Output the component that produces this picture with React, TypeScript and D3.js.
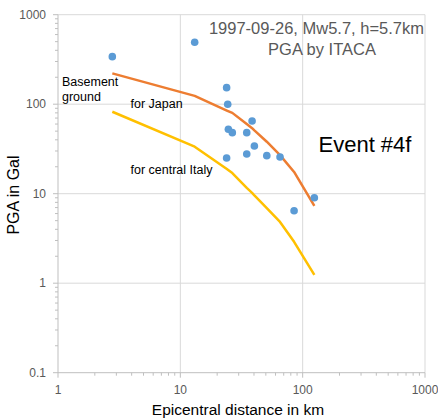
import React from "react";
import * as d3 from "d3";

const stationDist = [2.78, 13.1, 23.9, 24.4, 24.7, 26.6, 34.9, 38.6, 40.3, 23.9, 34.9, 50.9, 65.3, 124.6, 85.1];
const stationPGA = [340, 492, 153, 100, 52.5, 48.1, 48.1, 64.9, 34.1, 25.1, 27.8, 26.6, 25.7, 9.0, 6.46];

const curveDist = [2.78, 13.1, 24.0, 26.6, 34.9, 38.6, 40.3, 50.9, 65.3, 85.1, 124.6];
const japanPGA = [221, 124, 85, 80, 60, 54, 51, 38.1, 27.0, 17.5, 7.3];
const italyPGA = [82.4, 33.5, 18.9, 17.0, 11.6, 10.2, 9.55, 6.9, 4.83, 2.9, 1.24];

const xTicks = [1, 10, 100, 1000];
const yTicks = [0.1, 1, 10, 100, 1000];
const xTickLabels = ["1", "10", "100", "1000"];
const yTickLabels = ["0.1", "1", "10", "100", "1000"];

const W = 438;
const H = 418;
const left = 58;
const right = 425;
const top = 14.7;
const bottom = 372.7;

export default function App() {
  const x = d3.scaleLog().domain([1, 1000]).range([left, right]);
  const y = d3.scaleLog().domain([0.1, 1000]).range([bottom, top]);

  const minorX: number[] = [];
  for (let d = 1; d < 1000; d *= 10) for (let k = 2; k <= 9; k++) minorX.push(d * k);
  const minorY: number[] = [];
  for (let d = 0.1; d < 999; d *= 10) for (let k = 2; k <= 9; k++) minorY.push(d * k);

  const line = d3
    .line<[number, number]>()
    .x((d) => x(d[0]))
    .y((d) => y(d[1]));

  const japan = curveDist.map((d, i) => [d, japanPGA[i]] as [number, number]);
  const italy = curveDist.map((d, i) => [d, italyPGA[i]] as [number, number]);

  const font = "'Liberation Sans', Arial, sans-serif";
  const grid = "#d9d9d9";
  const tickCol = "#bfbfbf";
  const labelCol = "#595959";

  return (
    <svg
      width={W}
      height={H}
      style={{ position: "absolute", left: 0, top: 0, background: "#fff" }}
      fontFamily={font}
    >
      {yTicks.slice(1).map((t) => (
        <line key={"gy" + t} x1={left} x2={right} y1={y(t)} y2={y(t)} stroke={grid} strokeWidth={1} />
      ))}
      {xTicks.slice(1).map((t) => (
        <line key={"gx" + t} x1={x(t)} x2={x(t)} y1={top} y2={bottom} stroke={grid} strokeWidth={1} />
      ))}
      <line x1={left} x2={left} y1={top} y2={bottom} stroke={tickCol} strokeWidth={1} />
      <line x1={left} x2={right} y1={bottom} y2={bottom} stroke={tickCol} strokeWidth={1} />
      {yTicks.map((t) => (
        <line key={"ty" + t} x1={left - 5} x2={left} y1={y(t)} y2={y(t)} stroke={tickCol} />
      ))}
      {minorY.map((t, i) => (
        <line key={"my" + i} x1={left - 3} x2={left} y1={y(t)} y2={y(t)} stroke={tickCol} />
      ))}
      {xTicks.map((t) => (
        <line key={"tx" + t} x1={x(t)} x2={x(t)} y1={bottom} y2={bottom + 5} stroke={tickCol} />
      ))}
      {minorX.map((t, i) => (
        <line key={"mx" + i} x1={x(t)} x2={x(t)} y1={bottom} y2={bottom + 3} stroke={tickCol} />
      ))}
      {yTicks.map((t, i) => (
        <text key={"ly" + t} x={left - 12} y={y(t)} dy="0.35em" textAnchor="end" fontSize={12} fill={labelCol}>
          {yTickLabels[i]}
        </text>
      ))}
      {xTicks.map((t, i) => (
        <text key={"lx" + t} x={x(t)} y={bottom + 21} textAnchor="middle" fontSize={12} fill={labelCol}>
          {xTickLabels[i]}
        </text>
      ))}
      <text x={238} y={415} textAnchor="middle" fontSize={15.5} fill="#000">
        Epicentral distance in km
      </text>
      <text transform={`translate(19,195) rotate(-90)`} textAnchor="middle" fontSize={16} fill="#000">
        PGA in Gal
      </text>
      <path d={line(italy) || ""} fill="none" stroke="#FFC000" strokeWidth={2.5} strokeLinejoin="round" />
      <path d={line(japan) || ""} fill="none" stroke="#ED7D31" strokeWidth={2.5} strokeLinejoin="round" />
      {stationDist.map((d, i) => (
        <circle key={"p" + i} cx={x(d)} cy={y(stationPGA[i])} r={3.8} fill="#5B9BD5" />
      ))}
      <text x={424} y={33.5} textAnchor="end" fontSize={16.5} fill={labelCol}>
        1997-09-26, Mw5.7, h=5.7km
      </text>
      <text x={322} y={54.5} textAnchor="middle" fontSize={16.5} fill={labelCol}>
        PGA by ITACA
      </text>
      <text x={318.5} y={151.7} fontSize={22} fill="#000">
        Event #4f
      </text>
      <text x={62} y={86} fontSize={12.5} fill="#000">
        Basement
      </text>
      <text x={62} y={101} fontSize={12.5} fill="#000">
        ground
      </text>
      <text x={130.5} y={108.3} fontSize={12.5} fill="#000">
        for Japan
      </text>
      <text x={130.5} y={174} fontSize={12.5} fill="#000">
        for central Italy
      </text>
    </svg>
  );
}
